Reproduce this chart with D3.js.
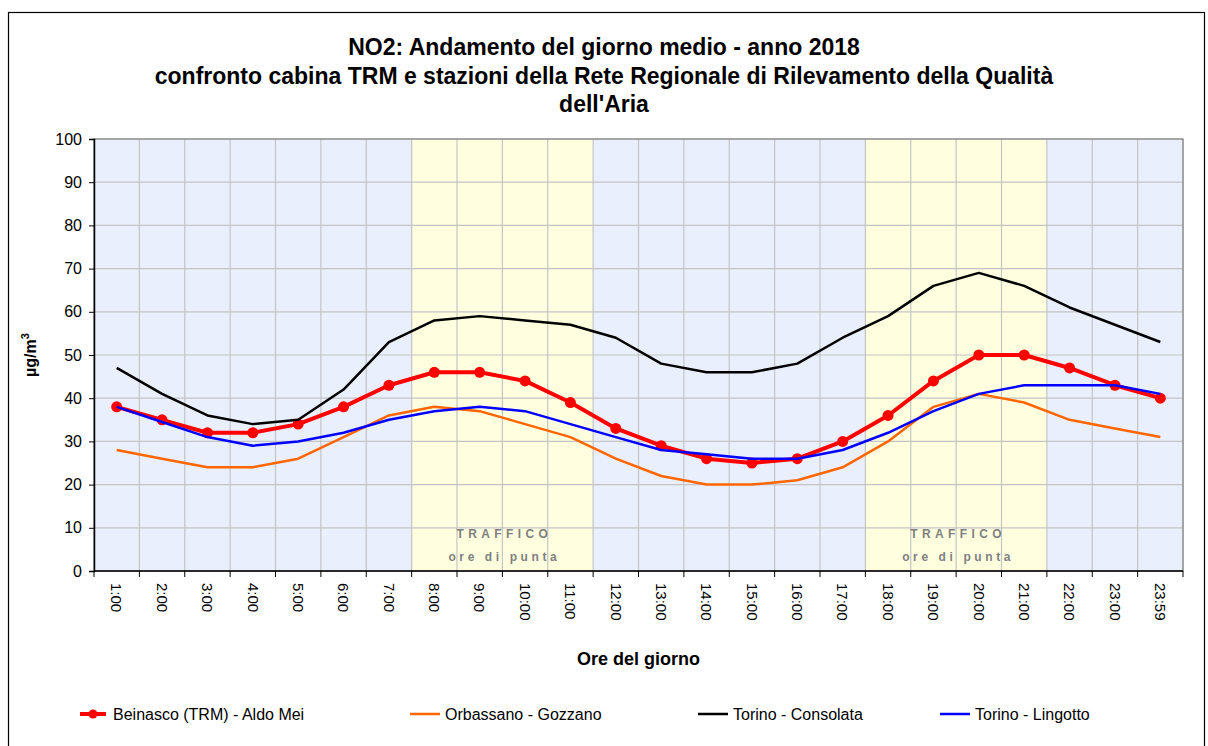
<!DOCTYPE html>
<html>
<head>
<meta charset="utf-8">
<script src="https://cdn.jsdelivr.net/npm/d3@7"></script>
<style>
  body { margin: 0; background: #fff; }
  svg { display: block; font-family: "Liberation Sans", Arial, sans-serif; }
</style>
</head>
<body>
<svg class="chart" width="1208" height="746"></svg>
<script>
const hours = ['1:00', '2:00', '3:00', '4:00', '5:00', '6:00', '7:00', '8:00', '9:00', '10:00', '11:00', '12:00',
  '13:00', '14:00', '15:00', '16:00', '17:00', '18:00', '19:00', '20:00', '21:00', '22:00', '23:00', '23:59'];
const beinasco = [38, 35, 32, 32, 34, 38, 43, 46, 46, 44, 39, 33, 29, 26, 25, 26, 30, 36, 44, 50, 50, 47, 43, 40];
const orbassano = [28, 26, 24, 24, 26, 31, 36, 38, 37, 34, 31, 26, 22, 20, 20, 21, 24, 30, 38, 41, 39, 35, 33, 31];
const consolata = [47, 41, 36, 34, 35, 42, 53, 58, 59, 58, 57, 54, 48, 46, 46, 48, 54, 59, 66, 69, 66, 61, 57, 53];
const lingotto = [38, 34.5, 31, 29, 30, 32, 35, 37, 38, 37, 34, 31, 28, 27, 26, 26, 28, 32, 37, 41, 43, 43, 43, 41];
const yTicks = [0, 10, 20, 30, 40, 50, 60, 70, 80, 90, 100];
const rushHours = [['8:00', '11:00'], ['18:00', '21:00']];
const titleLines = ['NO2: Andamento del giorno medio - anno 2018',
  'confronto cabina TRM e stazioni della Rete Regionale di Rilevamento della Qualità',
  "dell'Aria"];

const series = [
  { name: 'Beinasco (TRM) - Aldo Mei', values: beinasco, color: '#ff0000', width: 4, dots: true },
  { name: 'Orbassano - Gozzano', values: orbassano, color: '#ff6600', width: 2.5 },
  { name: 'Torino - Consolata', values: consolata, color: '#000000', width: 2.5 },
  { name: 'Torino - Lingotto', values: lingotto, color: '#0000ff', width: 2.5 },
];

const margin = { top: 139, left: 94, bottom: 175, right: 25 };
const width = 1208 - margin.left - margin.right;
const height = 746 - margin.top - margin.bottom;

const svg = d3.select('.chart');

// outer frame
svg.append('rect')
  .attr('x', 8.5).attr('y', 12.5)
  .attr('width', 1196).attr('height', 760)
  .attr('fill', 'none').attr('stroke', '#000').attr('stroke-width', 1.2);

svg.append('text')
  .attr('x', 604).attr('y', 55)
  .attr('text-anchor', 'middle')
  .attr('font-size', 23).attr('font-weight', 'bold')
  .selectAll('tspan')
  .data(titleLines)
  .enter()
  .append('tspan')
  .attr('x', 604)
  .attr('dy', (d, i) => (i === 0 ? 0 : 28.5))
  .text(d => d);

const chart = svg.append('g')
  .attr('transform', `translate(${margin.left}, ${margin.top})`);

const xScale = d3.scaleBand().domain(hours).range([0, width]);
const yScale = d3.scaleLinear().domain([0, 100]).range([height, 0]);

// background bands
chart.append('rect')
  .attr('width', width).attr('height', height)
  .attr('fill', '#e9effd');
chart.selectAll('.rush')
  .data(rushHours)
  .enter()
  .append('rect')
  .attr('x', d => xScale(d[0]))
  .attr('y', 0)
  .attr('width', d => xScale(d[1]) + xScale.bandwidth() - xScale(d[0]))
  .attr('height', height)
  .attr('fill', '#ffffe0');

// grid
chart.selectAll('.hgrid')
  .data(yTicks)
  .enter()
  .append('line')
  .attr('x1', 0).attr('x2', width)
  .attr('y1', d => yScale(d)).attr('y2', d => yScale(d))
  .attr('stroke', '#c4c4c4').attr('stroke-width', 1.2);
const boundaries = hours.map(h => xScale(h)).concat([width]);
chart.selectAll('.vgrid')
  .data(boundaries)
  .enter()
  .append('line')
  .attr('x1', d => d).attr('x2', d => d)
  .attr('y1', 0).attr('y2', height)
  .attr('stroke', '#c4c4c4').attr('stroke-width', 1.2);

chart.append('rect')
  .attr('width', width).attr('height', height)
  .attr('fill', 'none').attr('stroke', '#808080').attr('stroke-width', 1.2);

// traffic labels
rushHours.forEach((r) => {
  const cx = (xScale(r[0]) + xScale(r[1]) + xScale.bandwidth()) / 2;
  const label = chart.append('g')
    .attr('fill', '#7f7f7f')
    .attr('font-size', 12)
    .attr('font-weight', 'bold')
    .attr('text-anchor', 'middle');
  label.append('text').attr('x', cx + 2).attr('y', yScale(7.6))
    .attr('letter-spacing', 4.4).text('TRAFFICO');
  label.append('text').attr('x', cx + 2).attr('y', yScale(2.3))
    .attr('letter-spacing', 3.6).text('ore di punta');
});

// lines
const line = d3.line()
  .x((d, i) => xScale(hours[i]) + xScale.bandwidth() / 2)
  .y(d => yScale(d));

series.forEach((s) => {
  chart.append('path')
    .datum(s.values)
    .attr('d', line)
    .attr('fill', 'none')
    .attr('stroke', s.color)
    .attr('stroke-width', s.width)
    .attr('stroke-linejoin', 'round');
  if (s.dots) {
    chart.selectAll('.dot')
      .data(s.values)
      .enter()
      .append('circle')
      .attr('cx', (d, i) => xScale(hours[i]) + xScale.bandwidth() / 2)
      .attr('cy', d => yScale(d))
      .attr('r', 5.5)
      .attr('fill', s.color);
  }
});

// y axis
const yAxis = d3.axisLeft(yScale).tickValues(yTicks).tickSize(5).tickPadding(7);
const yG = chart.append('g').call(yAxis);
yG.select('.domain').attr('stroke', '#000').attr('stroke-width', 1.5);
yG.selectAll('.tick line').attr('stroke', '#000');
yG.selectAll('.tick text').attr('font-size', 16).attr('fill', '#000')
  .attr('font-family', '"Liberation Sans", Arial, sans-serif');

// x axis: ticks on band boundaries, labels at band centres
const xG = chart.append('g').attr('transform', `translate(0, ${height})`);
xG.append('line')
  .attr('x1', 0).attr('x2', width)
  .attr('stroke', '#000').attr('stroke-width', 1.5);
xG.selectAll('.xtick')
  .data(boundaries)
  .enter()
  .append('line')
  .attr('x1', d => d).attr('x2', d => d)
  .attr('y1', 0).attr('y2', 6)
  .attr('stroke', '#000');
xG.selectAll('.xlabel')
  .data(hours)
  .enter()
  .append('text')
  .attr('transform', d => `translate(${xScale(d) + xScale.bandwidth() / 2}, 12) rotate(90)`)
  .attr('dy', '0.35em')
  .attr('font-size', 15)
  .text(d => d);

chart.append('text')
  .attr('x', width / 2).attr('y', height + 94)
  .attr('text-anchor', 'middle')
  .attr('font-size', 18).attr('font-weight', 'bold')
  .text('Ore del giorno');

const yLabel = svg.append('text')
  .attr('transform', 'translate(36, 355) rotate(-90)')
  .attr('text-anchor', 'middle')
  .attr('font-size', 16).attr('font-weight', 'bold');
yLabel.append('tspan').text('µg/m');
yLabel.append('tspan').attr('font-size', 11).attr('dy', -7).text('3');

// legend
const legendX = [80, 410, 698, 940];
const legend = svg.selectAll('.legend')
  .data(series)
  .enter()
  .append('g')
  .attr('transform', (d, i) => `translate(${legendX[i]}, 714)`);
legend.append('line')
  .attr('x1', 0).attr('x2', d => (d.dots ? 26 : 30))
  .attr('stroke', d => d.color)
  .attr('stroke-width', d => d.width);
legend.filter(d => d.dots)
  .append('circle')
  .attr('cx', 13).attr('r', 4.5)
  .attr('fill', d => d.color);
legend.append('text')
  .attr('x', d => (d.dots ? 33 : 35))
  .attr('dy', '0.35em')
  .attr('font-size', 16)
  .text(d => d.name);
</script>
</body>
</html>
